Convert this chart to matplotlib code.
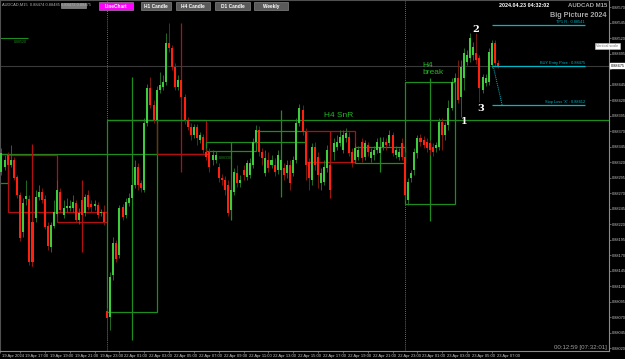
import matplotlib
matplotlib.use("Agg")
import matplotlib.pyplot as plt
import matplotlib.transforms as mtransforms
from matplotlib.patches import Rectangle
import numpy as np

plt.rcParams["font.family"] = ["Liberation Sans", "DejaVu Sans"]

# AUDCAD M15 candles, bar index 2 .. 162 (19 Apr 15:30 -> 23 Apr 07:30)
opens = [
    0.88304, 0.88312, 0.88331, 0.88315, 0.88323, 0.88296, 0.88267, 0.88207, 0.88260, 0.88260,
    0.88223, 0.88230, 0.88264, 0.88272, 0.88260, 0.88217, 0.88183, 0.88217, 0.88236, 0.88272,
    0.88235, 0.88246, 0.88246, 0.88246, 0.88254, 0.88226, 0.88259, 0.88238, 0.88267, 0.88252,
    0.88249, 0.88251, 0.88238, 0.88239, 0.88080, 0.88070, 0.88138, 0.88189, 0.88170, 0.88247,
    0.88235, 0.88254, 0.88262, 0.88283, 0.88312, 0.88286, 0.88275, 0.88383, 0.88439, 0.88412,
    0.88388, 0.88436, 0.88441, 0.88449, 0.88512, 0.88504, 0.88473, 0.88441, 0.88452, 0.88425,
    0.88388, 0.88376, 0.88364, 0.88376, 0.88356, 0.88360, 0.88336, 0.88336, 0.88323, 0.88323,
    0.88312, 0.88294, 0.88291, 0.88283, 0.88243, 0.88272, 0.88302, 0.88286, 0.88307, 0.88296,
    0.88299, 0.88315, 0.88352, 0.88372, 0.88336, 0.88302, 0.88323, 0.88315, 0.88315, 0.88307,
    0.88307, 0.88310, 0.88302, 0.88315, 0.88302, 0.88323, 0.88383, 0.88404, 0.88368, 0.88320,
    0.88291, 0.88344, 0.88328, 0.88286, 0.88288, 0.88310, 0.88315, 0.88336, 0.88344, 0.88351,
    0.88339, 0.88359, 0.88360, 0.88336, 0.88323, 0.88328, 0.88352, 0.88328, 0.88347, 0.88326,
    0.88331, 0.88339, 0.88335, 0.88344, 0.88352, 0.88351, 0.88364, 0.88331, 0.88328, 0.88351,
    0.88328, 0.88259, 0.88294, 0.88307, 0.88335, 0.88359, 0.88356, 0.88352, 0.88351, 0.88344,
    0.88343, 0.88344, 0.88385, 0.88364, 0.88380, 0.88407, 0.88449, 0.88456, 0.88425, 0.88456,
    0.88481, 0.88488, 0.88493, 0.88496, 0.88488, 0.88436, 0.88447, 0.88449, 0.88477, 0.88512,
    0.88480,
]
highs = [
    0.88343, 0.88331, 0.88336, 0.88347, 0.88328, 0.88299, 0.88272, 0.88262, 0.88291, 0.88267,
    0.88230, 0.88275, 0.88283, 0.88278, 0.88267, 0.88223, 0.88223, 0.88259, 0.88291, 0.88278,
    0.88259, 0.88262, 0.88259, 0.88267, 0.88259, 0.88246, 0.88283, 0.88268, 0.88275, 0.88259,
    0.88259, 0.88256, 0.88244, 0.88251, 0.88085, 0.88143, 0.88199, 0.88194, 0.88251, 0.88252,
    0.88262, 0.88270, 0.88288, 0.88323, 0.88318, 0.88291, 0.88391, 0.88446, 0.88457, 0.88420,
    0.88443, 0.88465, 0.88460, 0.88528, 0.88544, 0.88509, 0.88480, 0.88460, 0.88457, 0.88430,
    0.88393, 0.88383, 0.88381, 0.88381, 0.88368, 0.88365, 0.88343, 0.88343, 0.88339, 0.88338,
    0.88318, 0.88301, 0.88297, 0.88291, 0.88280, 0.88310, 0.88315, 0.88299, 0.88315, 0.88323,
    0.88326, 0.88359, 0.88380, 0.88378, 0.88343, 0.88339, 0.88336, 0.88331, 0.88326, 0.88339,
    0.88328, 0.88318, 0.88323, 0.88323, 0.88330, 0.88391, 0.88414, 0.88412, 0.88375, 0.88326,
    0.88351, 0.88352, 0.88336, 0.88310, 0.88323, 0.88347, 0.88323, 0.88359, 0.88364, 0.88372,
    0.88372, 0.88375, 0.88368, 0.88343, 0.88351, 0.88346, 0.88359, 0.88356, 0.88352, 0.88343,
    0.88346, 0.88359, 0.88352, 0.88360, 0.88359, 0.88372, 0.88368, 0.88346, 0.88343, 0.88359,
    0.88336, 0.88294, 0.88307, 0.88343, 0.88364, 0.88365, 0.88362, 0.88359, 0.88356, 0.88351,
    0.88352, 0.88391, 0.88391, 0.88385, 0.88420, 0.88456, 0.88464, 0.88485, 0.88485, 0.88504,
    0.88501, 0.88528, 0.88514, 0.88528, 0.88493, 0.88462, 0.88462, 0.88504, 0.88517, 0.88517,
    0.88485,
]
lows = [
    0.88299, 0.88307, 0.88310, 0.88312, 0.88291, 0.88262, 0.88193, 0.88199, 0.88251, 0.88154,
    0.88152, 0.88223, 0.88259, 0.88254, 0.88212, 0.88178, 0.88175, 0.88214, 0.88233, 0.88238,
    0.88230, 0.88239, 0.88241, 0.88239, 0.88222, 0.88220, 0.88230, 0.88233, 0.88243, 0.88239,
    0.88243, 0.88230, 0.88233, 0.88218, 0.88033, 0.88049, 0.88130, 0.88159, 0.88165, 0.88226,
    0.88230, 0.88249, 0.88259, 0.88278, 0.88275, 0.88272, 0.88272, 0.88378, 0.88407, 0.88383,
    0.88383, 0.88431, 0.88436, 0.88444, 0.88497, 0.88468, 0.88436, 0.88436, 0.88420, 0.88381,
    0.88372, 0.88356, 0.88359, 0.88347, 0.88351, 0.88335, 0.88323, 0.88304, 0.88315, 0.88318,
    0.88288, 0.88283, 0.88267, 0.88233, 0.88233, 0.88267, 0.88280, 0.88280, 0.88291, 0.88291,
    0.88294, 0.88310, 0.88347, 0.88330, 0.88315, 0.88297, 0.88304, 0.88310, 0.88297, 0.88301,
    0.88302, 0.88291, 0.88294, 0.88275, 0.88297, 0.88318, 0.88378, 0.88364, 0.88291, 0.88275,
    0.88283, 0.88307, 0.88278, 0.88275, 0.88283, 0.88304, 0.88267, 0.88323, 0.88339, 0.88346,
    0.88335, 0.88352, 0.88330, 0.88312, 0.88318, 0.88323, 0.88320, 0.88323, 0.88330, 0.88320,
    0.88323, 0.88335, 0.88330, 0.88339, 0.88339, 0.88346, 0.88330, 0.88326, 0.88323, 0.88323,
    0.88259, 0.88251, 0.88288, 0.88299, 0.88326, 0.88346, 0.88343, 0.88336, 0.88331, 0.88330,
    0.88336, 0.88339, 0.88339, 0.88356, 0.88372, 0.88404, 0.88443, 0.88415, 0.88393, 0.88436,
    0.88477, 0.88481, 0.88485, 0.88478, 0.88417, 0.88431, 0.88443, 0.88444, 0.88472, 0.88475,
    0.88472,
]
closes = [
    0.88335, 0.88323, 0.88315, 0.88323, 0.88294, 0.88267, 0.88197, 0.88254, 0.88265, 0.88159,
    0.88159, 0.88264, 0.88272, 0.88259, 0.88215, 0.88185, 0.88218, 0.88239, 0.88275, 0.88243,
    0.88246, 0.88249, 0.88249, 0.88256, 0.88226, 0.88238, 0.88235, 0.88264, 0.88247, 0.88247,
    0.88252, 0.88235, 0.88239, 0.88223, 0.88068, 0.88135, 0.88189, 0.88164, 0.88246, 0.88231,
    0.88256, 0.88262, 0.88283, 0.88312, 0.88283, 0.88278, 0.88383, 0.88439, 0.88412, 0.88388,
    0.88436, 0.88444, 0.88449, 0.88512, 0.88504, 0.88473, 0.88441, 0.88452, 0.88425, 0.88388,
    0.88376, 0.88364, 0.88376, 0.88359, 0.88364, 0.88339, 0.88328, 0.88312, 0.88331, 0.88331,
    0.88294, 0.88291, 0.88275, 0.88238, 0.88275, 0.88304, 0.88286, 0.88291, 0.88299, 0.88318,
    0.88318, 0.88352, 0.88372, 0.88336, 0.88326, 0.88326, 0.88310, 0.88323, 0.88304, 0.88331,
    0.88323, 0.88299, 0.88315, 0.88286, 0.88323, 0.88383, 0.88407, 0.88368, 0.88315, 0.88294,
    0.88344, 0.88315, 0.88299, 0.88302, 0.88312, 0.88339, 0.88275, 0.88351, 0.88352, 0.88360,
    0.88364, 0.88367, 0.88335, 0.88318, 0.88343, 0.88339, 0.88326, 0.88351, 0.88336, 0.88336,
    0.88339, 0.88352, 0.88344, 0.88352, 0.88347, 0.88364, 0.88335, 0.88339, 0.88336, 0.88328,
    0.88267, 0.88288, 0.88302, 0.88336, 0.88359, 0.88352, 0.88347, 0.88343, 0.88339, 0.88336,
    0.88347, 0.88385, 0.88364, 0.88380, 0.88407, 0.88449, 0.88456, 0.88420, 0.88473, 0.88496,
    0.88493, 0.88520, 0.88506, 0.88485, 0.88439, 0.88457, 0.88456, 0.88497, 0.88512, 0.88480,
    0.88475,
]
first_bar = 2

# H4 candles drawn as hollow boxes (start bar, 16 bars wide)
h4_start = [-12, 4, 20, 36, 52, 68, 84, 100, 116, 132]
h4_open = [0.88286, 0.88331, 0.88239, 0.88078, 0.88388, 0.88338, 0.88352, 0.88370, 0.88318, 0.88252]
h4_close = [0.88333, 0.88239, 0.88223, 0.88388, 0.88333, 0.88352, 0.88370, 0.88320, 0.88344, 0.88449]
h4_high = [0.88343, 0.88349, 0.88291, 0.88457, 0.88544, 0.88352, 0.88404, 0.88370, 0.88360, 0.88456]
h4_low = [0.88286, 0.88152, 0.88175, 0.88033, 0.88304, 0.88226, 0.88264, 0.88262, 0.88304, 0.88225]

snr_level = 0.88388
snr_from = 36
level_line = 0.88333
top_line = 0.88520

tp_price = 0.88541
entry_price = 0.88475
sl_price = 0.88412
bid = 0.88475

price_ticks = [0.88570 - 0.00025 * n for n in range(23)]
time_ticks = [8, 16, 24, 32, 40, 48, 56, 64, 72, 80, 88, 96, 104, 112, 120, 128, 136, 144, 152, 160]
time_labels = ["19 Apr 17:00", "19 Apr 19:00", "19 Apr 21:00", "19 Apr 23:00",
               "22 Apr 01:00", "22 Apr 03:00", "22 Apr 05:00", "22 Apr 07:00",
               "22 Apr 09:00", "22 Apr 11:00", "22 Apr 13:00", "22 Apr 15:00",
               "22 Apr 17:00", "22 Apr 19:00", "22 Apr 21:00", "22 Apr 23:00",
               "23 Apr 01:00", "23 Apr 03:00", "23 Apr 05:00", "23 Apr 07:00"]
day_breaks = [36, 132]

W, H = 625, 359
GREEN_BODY = "#3ccc3c"
GREEN_WICK = "#2a7a2a"
RED_BODY = "#ff2010"
RED_WICK = "#8a2010"
BOX_GREEN = "#1e8c1e"
BOX_RED = "#b01010"
TEAL = "#00b8c8"
GREY = "#8a8a8a"
NARROW = ["Liberation Sans Narrow", "Liberation Sans", "DejaVu Sans"]

fig = plt.figure(figsize=(W / 100, H / 100), dpi=100, facecolor="black")
ax = fig.add_axes([0, 8 / H, 609 / W, 351 / H])
ax.set_facecolor("black")
x_right = 1.53 + 609 / 3.104
ax.set_xlim(1.53, x_right)
ax.set_ylim(0.880152, 0.885813)

o = np.array(opens)
h = np.array(highs)
l = np.array(lows)
c = np.array(closes)
idx = np.arange(first_bar, first_bar + len(o))
up = c >= o
dn = ~up
body = np.maximum(np.abs(c - o), 0.000012)
bottom = np.minimum(o, c)

ax.vlines(idx[up], l[up], h[up], color=GREEN_WICK, lw=0.6, zorder=2)
ax.vlines(idx[dn], l[dn], h[dn], color=RED_WICK, lw=0.6, zorder=2)
ax.bar(idx[up], body[up], bottom=bottom[up], width=0.65, color=GREEN_BODY, lw=0, zorder=3)
ax.bar(idx[dn], body[dn], bottom=bottom[dn], width=0.65, color=RED_BODY, lw=0, zorder=3)

# H4 boxes
for s, bo, bc, bh, bl in zip(h4_start, h4_open, h4_close, h4_high, h4_low):
    col = BOX_GREEN if bc >= bo else BOX_RED
    ax.add_patch(Rectangle((s, min(bo, bc)), 16, abs(bc - bo), fill=False,
                           edgecolor=col, lw=0.9, zorder=1.5))
    ax.vlines(s + 8, bl, bh, color=col, lw=0.9, zorder=1.5)

ax.hlines(snr_level, snr_from, x_right, color=BOX_GREEN, lw=0.9, zorder=1.5)
ax.hlines(level_line, 1.53, 69, color=BOX_GREEN, lw=0.9, zorder=1.4)
ax.hlines(top_line, 1.53, 10.5, color=BOX_GREEN, lw=0.8, zorder=1.4)
ax.text(6, top_line - 0.00003, "0.88520", color=BOX_GREEN, fontsize=2.5, va="top", family=NARROW)
ax.text(72, level_line - 0.00003, "0.88330", color=BOX_GREEN, fontsize=2.5, va="top",
        family=NARROW)

ax.text(106, snr_level + 0.00002, "H4 SnR", color="#22b822", fontsize=6, va="bottom")
ax.text(137.5, 0.88470, "H4\nbreak", color="#22b822", fontsize=6, va="center",
        linespacing=1.15)

# period separators and bid line
for d in day_breaks:
    ax.axvline(d, color="#909090", lw=0.6, ls=(0, (1, 1.5)), zorder=1)
ax.axhline(bid, color="#3a3a3a", lw=0.8, zorder=1)

# trade levels
lvl_end = 190
for lvl, txt in [(tp_price, f"TP1 R : {tp_price:.5f}"),
                 (entry_price, f"BUY Entry Price : {entry_price:.5f}"),
                 (sl_price, f"Stop Loss 'X' : {sl_price:.5f}")]:
    ax.hlines(lvl, 160.0, lvl_end, color=TEAL, lw=0.9, zorder=4)
    ax.text(lvl_end, lvl + 0.00001, txt, color=TEAL, fontsize=2.8, ha="right", va="bottom",
            family=NARROW, zorder=4)
ax.plot([160.4, 163.3], [entry_price, sl_price], color=TEAL, lw=0.7, ls=(0, (1, 1)), zorder=4)

# swing labels
for lab, xi, yv in [("2", 154.9, 0.88533), ("1", 151.0, 0.88385), ("3", 156.5, 0.88407)]:
    ax.text(xi, yv, lab, color="white", fontsize=7, fontweight="bold", family="DejaVu Serif",
            ha="center", va="center", zorder=5)

# axes styling
for sp in ["left", "top"]:
    ax.spines[sp].set_color("#505050")
for sp in ["right", "bottom"]:
    ax.spines[sp].set_color(GREY)
    ax.spines[sp].set_linewidth(0.8)
ax.yaxis.tick_right()
ax.set_yticks(price_ticks)
ax.set_yticklabels(["" if abs(v - bid) < 0.00008 else f"{v:.5f}" for v in price_ticks],
                   family=NARROW)
ax.tick_params(axis="y", colors=GREY, labelcolor="#c8c8c8", labelsize=2.8, length=1.2,
               width=0.5, pad=0.6)
ax.set_xticks([1.53] + time_ticks)
ax.set_xticklabels(["19 Apr 2024"] + time_labels, family=NARROW)
ax.tick_params(axis="x", colors=GREY, labelcolor="#c8c8c8", labelsize=3.0, length=1.5,
               width=0.5, pad=0.8)
for k, lab in enumerate(ax.get_xticklabels()):
    dx = 2 if k == 0 else 5
    lab.set_horizontalalignment("left")
    lab.set_transform(lab.get_transform()
                      + mtransforms.ScaledTranslation(dx / 100, 0, fig.dpi_scale_trans))

# current price tag on the scale
tag = mtransforms.blended_transform_factory(ax.transAxes, ax.transData)
ax.text(1.003, bid, f"{bid:.5f}", transform=tag, fontsize=2.8, color="black", va="center",
        family=NARROW, bbox=dict(boxstyle="square,pad=0.15", fc="white", ec="white"),
        clip_on=False, zorder=6)


def fx(x):
    return x / W


def fy(y):
    return 1 - y / H


# header texts
fig.text(fx(2), fy(5), "AUDCAD,M15  0.88474 0.88485 0.88472 0.88475", color="#b0b0b0",
         fontsize=2.9, va="center", family=NARROW)
fig.add_artist(Rectangle((fx(61), fy(7.5)), 25 / W, 4 / H, transform=fig.transFigure,
                         fc="#7a7a7a", ec="#a0a0a0", lw=0.4))
buttons = [("LineChart", 99, 133, "#ff00ff"), ("H1 Candle", 141, 171, "#5a5a5a"),
           ("H4 Candle", 176, 210, "#5a5a5a"), ("D1 Candle", 215, 250, "#5a5a5a"),
           ("Weekly", 254, 288, "#5a5a5a")]
for name, x0, x1, col in buttons:
    fig.add_artist(Rectangle((fx(x0), fy(10)), (x1 - x0) / W, 7.5 / H, transform=fig.transFigure,
                             fc=col, ec="#9a9a9a", lw=0.4))
    fig.text(fx((x0 + x1) / 2), fy(6.3), name, color="white", fontsize=3.4, fontweight="bold",
             ha="center", va="center")

fig.text(fx(524), fy(5.5), "2024.04.23 04:32:02", color="white", fontsize=3.9, fontweight="bold",
         ha="center", va="center")
fig.text(fx(607), fy(5.5), "AUDCAD M15", color="#a8a8a8", fontsize=4.3, fontweight="bold",
         ha="right", va="center")
fig.text(fx(607), fy(15.5), "Big Picture 2024", color="#a8a8a8", fontsize=5.2, fontweight="bold",
         ha="right", va="center")
fig.text(fx(607.5), fy(46), "Vertical scale", color="#707070", fontsize=2.7, ha="center",
         va="center", family=NARROW,
         bbox=dict(boxstyle="square,pad=0.3", fc="white", ec="#c0c0c0", lw=0.4))
fig.text(fx(607), fy(347), "00:12:59 [07:32:01]", color="#a0a0a0", fontsize=4.4, ha="right",
         va="center")

fig.savefig("out.png", dpi=100, facecolor="black")
